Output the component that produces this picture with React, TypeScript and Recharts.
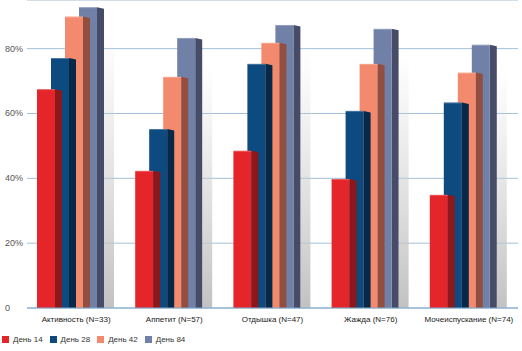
// Grouped 3D-look bar chart: share of patients with improvement by day.
import React from "react";
import { BarChart, Bar, XAxis, YAxis, CartesianGrid, Legend } from "recharts";

const categories = [
  "Активность (N=33)",
  "Аппетит (N=57)",
  "Отдышка (N=47)",
  "Жажда (N=76)",
  "Мочеиспускание (N=74)",
];
const day14 = [67.5, 42.3, 48.5, 39.8, 34.9];
const day28 = [77.1, 55.2, 75.3, 60.8, 63.4];
const day42 = [89.9, 71.3, 81.8, 75.3, 72.6];
const day84 = [92.8, 83.3, 87.3, 86.1, 81.2];
const yTicks = [0, 20, 40, 60, 80];

const data = categories.map((name, i) => ({
  name,
  d14: day14[i],
  d28: day28[i],
  d42: day42[i],
  d84: day84[i],
}));

// front face + darker side face; bars overlap so each one hides the left of the next
const FRONT = 18;
const SIDE = 7;
const BAR_W = FRONT + SIDE;
const BAR_GAP = -11;
const STEP = BAR_W + BAR_GAP;
const GROUP_SHIFT = -6;

// declared back-to-front so the red bar is painted last (on top)
const series = [
  { key: "d84", name: "День 84", front: "#7180a7", side: "#464c68", shadow: true },
  { key: "d42", name: "День 42", front: "#f48a6d", side: "#924f40", shadow: false },
  { key: "d28", name: "День 28", front: "#0c4a7f", side: "#06294a", shadow: false },
  { key: "d14", name: "День 14", front: "#e4262b", side: "#8b181b", shadow: false },
];

function makeShape(idx: number, front: string, side: string, shadow: boolean) {
  const pos = series.length - 1 - idx;
  const shift = (pos - idx) * STEP + GROUP_SHIFT;
  return (props: any) => {
    const { x, y, height } = props;
    if (!height || height <= 0) return <g />;
    const x0 = x + shift;
    const bottom = y + height;
    return (
      <g>
        {shadow && (
          <rect
            x={x0 + BAR_W}
            y={y + 25}
            width={10}
            height={Math.max(0, height - 25)}
            fill="url(#barShade)"
          />
        )}
        <polygon
          points={`${x0 + FRONT},${y} ${x0 + BAR_W},${y + 1.5} ${x0 + BAR_W},${bottom} ${x0 + FRONT},${bottom}`}
          fill={side}
        />
        <rect x={x0} y={y} width={FRONT} height={height} fill={front} />
        <rect x={x0} y={y} width={FRONT} height={1} fill="#ffffff" opacity={0.25} />
      </g>
    );
  };
}

const YTick = (props: any) => {
  const { y, payload } = props;
  return (
    <text x={5} y={y} dy={3} textAnchor="start" fontSize={9} fill="#555">
      {payload.value === 0 ? "0" : `${payload.value}%`}
    </text>
  );
};

export default function App() {
  return (
    <div style={{ position: "absolute", left: 0, top: 0, width: 522, height: 351, background: "#fff" }}>
      <style>{`body{margin:0} .recharts-legend-item{margin-right:7px !important}`}</style>
      <BarChart
        width={522}
        height={351}
        data={data}
        margin={{ top: 0, right: 4, bottom: 13, left: 0 }}
        barGap={BAR_GAP}
        barCategoryGap={0}
        style={{ fontFamily: "'Liberation Sans', Arial, sans-serif" }}
      >
        <defs>
          <linearGradient id="barShade" x1="0" y1="0" x2="0" y2="1">
            <stop offset="0%" stopColor="#d0d0d0" stopOpacity={0} />
            <stop offset="100%" stopColor="#c2c2c2" stopOpacity={1} />
          </linearGradient>
        </defs>
        <CartesianGrid vertical={false} stroke="#a3c0d8" />
        <XAxis
          dataKey="name"
          interval={0}
          tickLine={false}
          axisLine={{ stroke: "#7ea8cb" }}
          tick={{ fontSize: 8, fill: "#1a1a1a" }}
        />
        <YAxis
          width={27}
          domain={[0, 95]}
          ticks={yTicks}
          axisLine={false}
          tickLine={false}
          tick={<YTick />}
        />
        {series.map((s, i) => (
          <Bar
            key={s.key}
            dataKey={s.key}
            name={s.name}
            fill={s.front}
            barSize={BAR_W}
            isAnimationActive={false}
            shape={makeShape(i, s.front, s.side, s.shadow)}
          />
        ))}
        <Legend
          layout="horizontal"
          verticalAlign="middle"
          align="center"
          iconType="square"
          iconSize={7}
          itemSorter="value"
          wrapperStyle={{ top: 333, left: 2, width: "auto", fontSize: 8, lineHeight: "14px" }}
          formatter={(v: any) => <span style={{ color: "#333" }}>{v}</span>}
        />
      </BarChart>
    </div>
  );
}
